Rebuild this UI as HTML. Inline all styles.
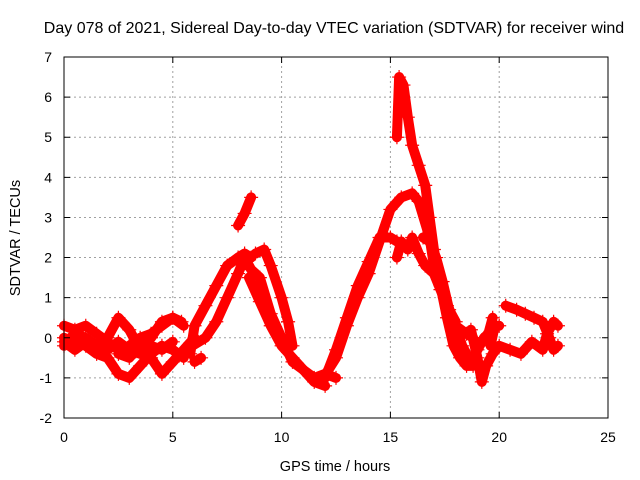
<!DOCTYPE html>
<html><head><meta charset="utf-8"><style>
body{margin:0;background:#fff;}
svg{display:block;font-family:"Liberation Sans",sans-serif;}
</style></head><body>
<svg id="chart" width="640" height="480">
<text x="334" y="33" font-size="16" text-anchor="middle">Day 078 of 2021, Sidereal Day-to-day VTEC variation (SDTVAR) for receiver wind</text>
<text x="335" y="471" font-size="14.5" text-anchor="middle">GPS time / hours</text>
<text transform="translate(20,238) rotate(-90)" font-size="14.5" text-anchor="middle">SDTVAR / TECUs</text>
<g id="grid"></g>
<g id="marks"></g>
<rect x="64" y="57" width="544" height="361" fill="none" stroke="#000" stroke-width="1"/>
<g id="axes"></g>
</svg>
<script>
const xTicks=[0,5,10,15,20,25];
const yTicks=[-2,-1,0,1,2,3,4,5,6,7];
const trackA1=[[0,0.3],[0.5,0.2],[1,0.3],[1.5,0.1],[2,-0.1],[2.5,-0.3],[3,-0.2],[3.5,0],[4,0.1],[4.5,0.3],[5,0.5],[5.5,0.3]];
const trackA2=[[0,0],[0.5,-0.1],[1,-0.2],[1.5,-0.4],[2,-0.5],[2.5,-0.9],[3,-1.0],[3.5,-0.7],[4,-0.4],[4.5,-0.2],[5,-0.3],[5.5,-0.5]];
const trackA3=[[0,-0.2],[0.5,0.1],[1,0],[1.5,-0.2],[2,0],[2.5,0.5],[3,0.2],[3.5,-0.3],[4,-0.5],[4.5,-0.9],[5,-0.6],[5.5,-0.3],[6,0]];
const trackA4=[[2.5,-0.4],[3,-0.5],[3.5,-0.2],[4,0],[4.5,0.4],[5,0.5],[5.4,0.4]];
const trackA5=[[0,-0.1],[0.5,-0.3],[1,-0.1],[1.5,-0.3],[2,-0.3],[2.5,-0.1],[3,-0.3],[3.5,-0.4],[4,-0.2],[4.5,-0.3],[5,-0.1]];
const trackB1=[[5.8,-0.4],[6,0.3],[6.5,0.8],[7,1.3],[7.5,1.8],[8,2.0],[8.3,2.1],[8.6,2.0]];
const trackB2=[[5.9,-0.2],[6.5,0],[7,0.4],[7.5,1.0],[8,1.6],[8.3,2.0],[8.6,1.7],[9,1.5],[9.5,0.6],[10,0],[10.5,-0.6],[11,-0.8],[11.5,-1.0],[12,-0.9],[12.5,-1.0]];
const trackB3=[[8,2.8],[8.3,3.1],[8.6,3.5]];
const trackB4=[[8.5,1.5],[9,0.9],[9.5,0.3],[10,-0.2],[10.5,-0.5],[11,-0.8],[11.5,-1.1],[12,-1.2]];
const trackB5=[[6,-0.6],[6.3,-0.5]];
const trackB6=[[8.8,2.1],[9.2,2.2],[9.5,1.8],[10,1.0],[10.3,0.4],[10.5,-0.2]];
const trackC1=[[12,-1.0],[12.5,-0.3],[13,0.5],[13.5,1.3],[14,1.9],[14.5,2.5],[15,2.5],[15.3,2.4]];
const trackC2=[[11.8,-1.1],[12.5,-0.5],[13,0.3],[13.5,1.0],[14,1.6],[14.5,2.4],[15,3.2],[15.5,3.5],[16,3.6],[16.3,3.4],[16.8,2.5],[17,1.8],[17.5,1.0],[18,0.3],[18.5,0.1],[18.8,0]];
const trackC3=[[15.3,5.0],[15.4,6.5],[15.6,6.3],[15.8,5.5],[16,4.8],[16.3,4.3],[16.6,3.8],[16.8,3.0],[17,2.2],[17.3,1.3],[17.6,0.5],[17.9,-0.2],[18.2,-0.5],[18.5,-0.7],[18.8,-0.7]];
const trackC4=[[15.3,2.0],[15.5,2.4],[15.8,2.2],[16,2.5],[16.3,2.1],[16.6,1.8],[17,1.6],[17.3,1.2],[17.6,0.8],[18,0.3],[18.3,-0.2],[18.6,-0.5]];
const trackC5=[[16.5,2.5],[16.8,2.4],[17.1,2.0],[17.4,1.4],[17.7,0.7],[18,0.4]];
const trackD1=[[18.8,-0.5],[19,-0.3],[19.3,0],[19.5,0.1],[19.7,0.5]];
const trackD2=[[18.7,0.2],[19,-0.5],[19.2,-1.1],[19.4,-0.7],[19.7,-0.4],[20,-0.2],[20.5,-0.3],[21,-0.4],[21.5,-0.1],[22,-0.3],[22.2,0.1],[22.5,0.4],[22.7,0.3]];
const trackD3=[[20.3,0.8],[20.8,0.7],[21.2,0.6],[21.6,0.5],[22,0.4],[22.3,0],[22.5,-0.3],[22.7,-0.2]];
const trackD4=[[19.6,-0.2],[19.8,0.3],[20,0.3]];
const tracks=[trackA1,trackA2,trackA3,trackA4,trackA5,trackB1,trackB2,trackB3,trackB4,trackB5,trackB6,trackC1,trackC2,trackC3,trackC4,trackC5,trackD1,trackD2,trackD3,trackD4];

const NS="http://www.w3.org/2000/svg";
const X0=64,X1=608,Y0=418,Y1=57;
function xs(h){return X0+(h-0)/(25-0)*(X1-X0);}
function ys(v){return Y0-(v+2)/(7+2)*(Y0-Y1);}
function mk(tag,attrs,parent){const e=document.createElementNS(NS,tag);for(const k in attrs)e.setAttribute(k,attrs[k]);parent.appendChild(e);return e;}
const grid=document.getElementById('grid'),axes=document.getElementById('axes'),marks=document.getElementById('marks');
xTicks.forEach(t=>{
  const x=xs(t);
  if(t>0&&t<25){const g=mk('line',{x1:x,x2:x,y1:Y0,y2:Y1,stroke:'#a0a0a0','stroke-dasharray':'2,3'},grid);
  
  }
  const tk=mk('path',{d:`M${x},${Y0}v-6M${x},${Y1}v6`,stroke:'#000'},axes);
  
  
  const l=mk('text',{x:x,y:442,'font-size':'14','text-anchor':'middle'},axes);
  l.textContent=t;
  
  
});
yTicks.forEach(t=>{
  const y=ys(t);
  if(t>-2&&t<7){const g=mk('line',{x1:X0,x2:X1,y1:y,y2:y,stroke:'#a0a0a0','stroke-dasharray':'2,3'},grid);
  
  }
  const tk=mk('path',{d:`M${X0},${y}h6M${X1},${y}h-6`,stroke:'#000'},axes);
  
  
  const l=mk('text',{x:52,y:y+5,'font-size':'14','text-anchor':'end'},axes);
  l.textContent=t;
  
  
});
tracks.forEach(tr=>{
  const pl=mk('polyline',{points:tr.map(p=>xs(p[0])+','+ys(p[1])).join(' '),fill:'none',stroke:'#ff0000','stroke-width':'10','stroke-linejoin':'round','stroke-linecap':'round'},marks);
  
  
  tr.forEach(p=>{
    const x=xs(p[0]),y=ys(p[1]);
    const m=mk('path',{d:`M${x-7},${y}h14M${x},${y-7}v14`,stroke:'#ff0000','stroke-width':'1.2'},marks);
    
    
  });
});
</script>
</body></html>
